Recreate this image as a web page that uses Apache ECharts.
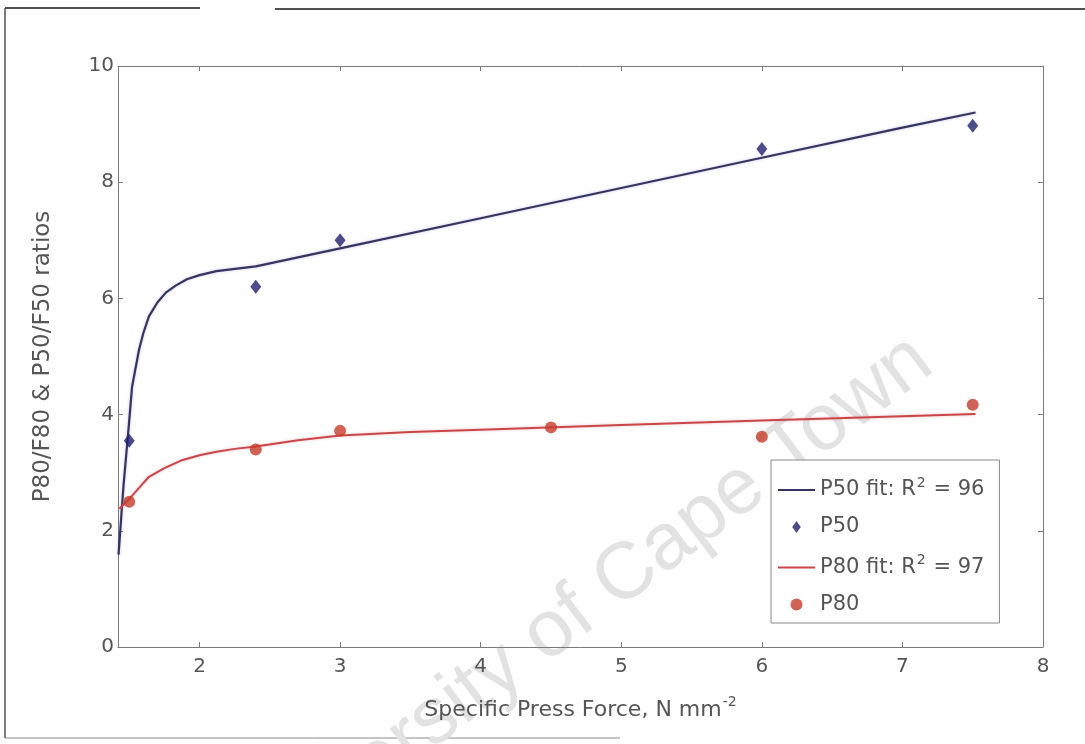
<!DOCTYPE html>
<html>
<head>
<meta charset="utf-8">
<title>Specific Press Force vs size ratios</title>
<script src="https://cdn.jsdelivr.net/npm/echarts@6/dist/echarts.min.js"></script>
<style>
  html, body { margin: 0; padding: 0; background: #ffffff; }
  #chart { width: 1085px; height: 744px; }
</style>
</head>
<body>
<div id="chart"></div>
<script>
// Axis ticks
const xTicks = [2, 3, 4, 5, 6, 7, 8];
const yTicks = [0, 2, 4, 6, 8, 10];

// Measured ratios
const p50X = [1.5, 2.4, 3, 6, 7.5];
const p50Y = [3.55, 6.2, 7.0, 8.57, 8.97];
const p80X = [1.5, 2.4, 3, 4.5, 6, 7.5];
const p80Y = [2.5, 3.4, 3.72, 3.78, 3.62, 4.17];

// Fitted curves
const p50FitX = [1.424, 1.445, 1.46, 1.49, 1.5, 1.52, 1.57, 1.6, 1.64, 1.7, 1.76, 1.83, 1.91, 2.0, 2.12, 2.4, 3, 4, 5, 6, 7, 7.52];
const p50FitY = [1.59, 2.31, 2.8, 3.62, 3.9, 4.48, 5.12, 5.4, 5.69, 5.93, 6.1, 6.22, 6.33, 6.4, 6.47, 6.55, 6.86, 7.38, 7.9, 8.42, 8.94, 9.2];
const p80FitX = [1.43, 1.5, 1.57, 1.64, 1.75, 1.88, 2.0, 2.12, 2.25, 2.4, 2.7, 3, 3.5, 4, 5, 6, 7, 7.52];
const p80FitY = [2.38, 2.55, 2.74, 2.93, 3.08, 3.22, 3.3, 3.36, 3.41, 3.45, 3.56, 3.64, 3.7, 3.74, 3.82, 3.9, 3.97, 4.01];

// Legend entries
const legendText = {
  'P50 fit': '{t|P50 fit: R}{sup|2}{t| = 96}',
  'P50': '{t|P50}',
  'P80 fit': '{t|P80 fit: R}{sup|2}{t| = 97}',
  'P80': '{t|P80}'
};

const xLabel = ['Specific Press Force, N mm', '-2'];
const yLabel = 'P80/F80 & P50/F50 ratios';
const watermark = 'University of Cape Town';

const zip = (xs, ys) => xs.map((x, i) => [x, ys[i]]);

const blueLine = '#35355f';
const blueMark = '#1f1f70';
const redLine = '#c9474a';
const redMark = '#c63b2c';
const axisGray = '#7a7a7a';
const textGray = '#555555';
const font = 'DejaVu Sans, Verdana, sans-serif';

const chart = echarts.init(document.getElementById('chart'), null, { renderer: 'canvas' });

const xAxisBase = {
  type: 'value',
  min: 1.42,
  max: 8,
  splitLine: { show: false },
  axisLine: { show: true, onZero: false, lineStyle: { color: axisGray, width: 1 } },
  axisTick: { show: true, inside: true, length: 5, customValues: xTicks, lineStyle: { color: axisGray } }
};
const yAxisBase = {
  type: 'value',
  min: 0,
  max: 10,
  interval: 2,
  splitLine: { show: false },
  axisLine: { show: true, onZero: false, lineStyle: { color: axisGray, width: 1 } },
  axisTick: { show: true, inside: true, length: 5, customValues: yTicks, lineStyle: { color: axisGray } }
};

const lineIcon = 'path://M0,0 L37,0 L37,2 L0,2 Z';

chart.setOption({
  backgroundColor: '#ffffff',
  animation: false,
  grid: { left: 118, right: 42, top: 66, bottom: 97 },
  xAxis: [
    Object.assign({}, xAxisBase, {
      position: 'bottom',
      name: '{t|' + xLabel[0] + '}{sup|' + xLabel[1] + '}',
      nameLocation: 'middle',
      nameGap: 48,
      nameTextStyle: {
        rich: {
          t: { fontFamily: font, fontSize: 22, color: textGray, lineHeight: 30 },
          sup: { fontFamily: font, fontSize: 14, color: textGray, lineHeight: 14, verticalAlign: 'top', padding: [0, 0, 0, 1] }
        }
      },
      axisLabel: {
        customValues: xTicks,
        fontFamily: font, fontSize: 20, color: textGray, margin: 10
      }
    }),
    Object.assign({}, xAxisBase, {
      position: 'top',
      axisLabel: { show: false }
    })
  ],
  yAxis: [
    Object.assign({}, yAxisBase, {
      position: 'left',
      name: yLabel,
      nameLocation: 'middle',
      nameGap: 63,
      nameTextStyle: { fontFamily: font, fontSize: 23, color: textGray },
      axisLabel: { customValues: yTicks, fontFamily: font, fontSize: 20, color: textGray, margin: 4 }
    }),
    Object.assign({}, yAxisBase, {
      position: 'right',
      axisLabel: { show: false }
    })
  ],
  legend: {
    orient: 'vertical',
    left: 771,
    top: 460,
    padding: [16, 15, 8, 7],
    itemGap: 16,
    itemWidth: 37,
    itemHeight: 12,
    backgroundColor: '#ffffff',
    borderColor: '#8a8a8a',
    borderWidth: 1,
    data: [
      { name: 'P50 fit', icon: lineIcon },
      { name: 'P50', icon: 'path://M5,0 L10,7 L5,14 L0,7 Z' },
      { name: 'P80 fit', icon: lineIcon },
      { name: 'P80', icon: 'circle' }
    ],
    formatter: name => legendText[name],
    textStyle: {
      rich: {
        t: { fontFamily: font, fontSize: 21, color: textGray, lineHeight: 28 },
        sup: { fontFamily: font, fontSize: 14, color: textGray, lineHeight: 14, verticalAlign: 'top', padding: [0, 1, 0, 1] }
      }
    }
  },
  graphic: [
    // page frame
    { type: 'line', z: 0, shape: { x1: 5, y1: 8, x2: 200, y2: 8 }, style: { stroke: '#505050', lineWidth: 2 } },
    { type: 'line', z: 0, shape: { x1: 275, y1: 9, x2: 1085, y2: 9 }, style: { stroke: '#505050', lineWidth: 2 } },
    { type: 'line', z: 0, shape: { x1: 5, y1: 8, x2: 5, y2: 738 }, style: { stroke: '#505050', lineWidth: 1.5 } },
    { type: 'line', z: 0, shape: { x1: 5, y1: 738, x2: 620, y2: 738 }, style: { stroke: '#8a8a8a', lineWidth: 1 } },
    // watermark
    {
      type: 'text', z: 0,
      x: 923, y: 352,
      rotation: 37 * Math.PI / 180,
      style: {
        text: watermark,
        fontFamily: 'Liberation Sans, Arial, sans-serif',
        fontSize: 80,
        fill: '#e2e2e2',
        textAlign: 'right',
        textVerticalAlign: 'middle'
      }
    }
  ],
  series: [
    {
      name: 'P50 fit', type: 'line', xAxisIndex: 0, yAxisIndex: 0,
      data: zip(p50FitX, p50FitY),
      smooth: false,
      symbol: 'none',
      lineStyle: { color: blueLine, width: 2.2, shadowColor: 'rgba(90,90,200,0.35)', shadowBlur: 3 },
      itemStyle: { color: blueLine },
      z: 3
    },
    {
      name: 'P50', type: 'scatter', xAxisIndex: 0, yAxisIndex: 0,
      data: zip(p50X, p50Y),
      symbol: 'diamond', symbolSize: [11, 14],
      itemStyle: { color: blueMark },
      z: 4
    },
    {
      name: 'P80 fit', type: 'line', xAxisIndex: 0, yAxisIndex: 0,
      data: zip(p80FitX, p80FitY),
      smooth: false,
      symbol: 'none',
      lineStyle: { color: redLine, width: 2, shadowColor: 'rgba(230,120,120,0.45)', shadowBlur: 3 },
      itemStyle: { color: redLine },
      z: 3
    },
    {
      name: 'P80', type: 'scatter', xAxisIndex: 0, yAxisIndex: 0,
      data: zip(p80X, p80Y),
      symbol: 'circle', symbolSize: 12,
      itemStyle: { color: redMark },
      z: 4
    }
  ]
});
</script>
</body>
</html>
